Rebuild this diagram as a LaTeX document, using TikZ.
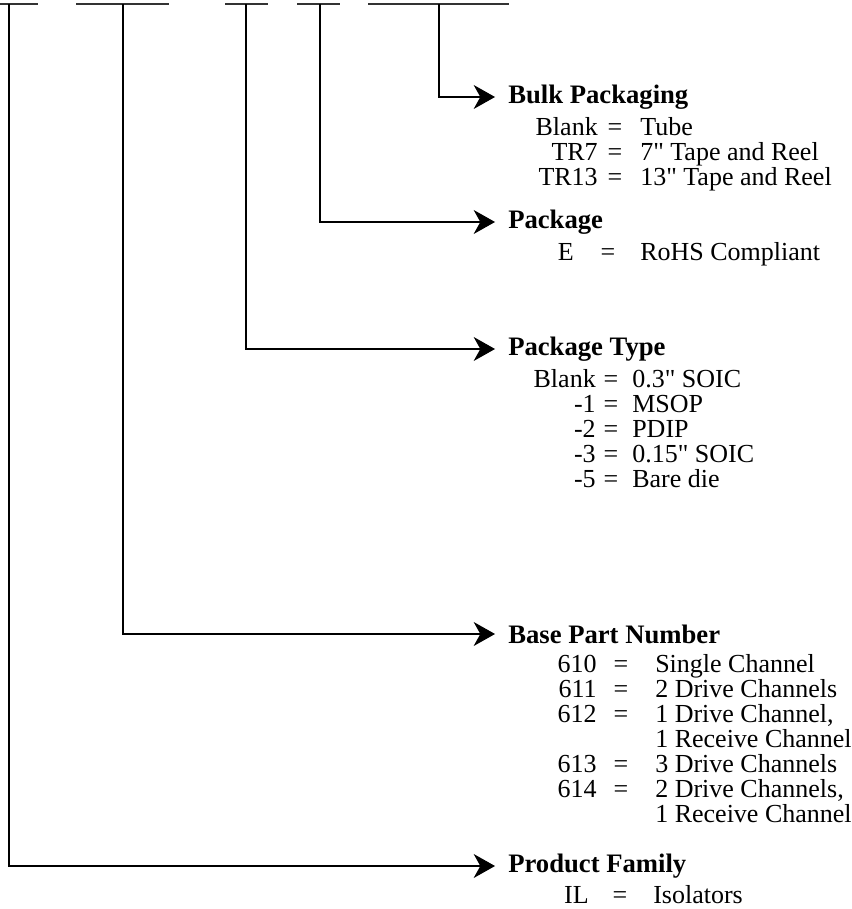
\documentclass[tikz,border=0pt]{standalone}
\usepackage{fontspec}
\setmainfont{Liberation Serif}[Ligatures=TeXOff]
\usetikzlibrary{arrows.meta}
\tikzset{
  lead/.style={line width=0.8pt, -{Stealth[length=16pt, width=18pt, inset=5pt]}},
  bar/.style={line width=1pt, draw=black!80},
  title/.style={anchor=west, inner sep=0pt, font=\bfseries\fontsize{20}{24}\selectfont},
  entry/.style={inner sep=0pt, font=\fontsize{19.5}{24}\selectfont}
}
\begin{document}
\begin{tikzpicture}[x=0.75pt,y=-0.75pt]
  \useasboundingbox (0,0) rectangle (851,909);
  % part number fields
  \foreach \a/\b in {0/38, 76/169, 225/268, 297/340, 368/509} {
    \draw[bar] (\a,4) -- (\b,4);
  }
  \foreach \lab/\x in {fam/9, base/123, type/246, pkg/320, bulk/439} {
    \coordinate (u\lab) at (\x,4);
  }
  % headings
  \foreach \lab/\y/\txt in {
    bulk/97/Bulk Packaging,
    pkg/222/Package,
    type/349/Package Type,
    base/634/Base Part Number,
    fam/866/Product Family%
  } {
    \node[title] (t\lab) at (508,\y) {\txt};
    \coordinate (a\lab) at (495,\y);
    \draw[lead] (u\lab) |- (a\lab);
  }
  % codes
  \foreach \n/\y/\ke/\eq/\vs/\k/\v in {
    b1/132/598/615/640/Blank/Tube,
    b2/157/598/615/640/TR7/7" Tape and Reel,
    b3/182/598/615/640/TR13/13" Tape and Reel,
    p1/257/574/608/640/E/RoHS Compliant,
    y1/384/596/611/632/Blank/0.3" SOIC,
    y2/409/596/611/632/-1/MSOP,
    y3/434/596/611/632/-2/PDIP,
    y4/459/596/611/632/-3/0.15" SOIC,
    y5/484/596/611/632/-5/Bare die,
    n1/669/597/621/655/610/Single Channel,
    n2/694/597/621/655/611/2 Drive Channels,
    n3/719/597/621/655/612/{1 Drive Channel,},
    n5/769/597/621/655/613/3 Drive Channels,
    n6/794/597/621/655/614/{2 Drive Channels,},
    f1/900/589/620/653/IL/Isolators%
  } {
    \node[entry, anchor=mid east] (k\n) at (\ke,\y) {\k};
    \node[entry, anchor=mid] (e\n) at (\eq,\y) {=};
    \node[entry, anchor=mid west] (v\n) at (\vs,\y) {\v};
  }
  \node[entry, anchor=mid west] (vn4) at (655,744) {1 Receive Channel};
  \node[entry, anchor=mid west] (vn7) at (655,819) {1 Receive Channel};
\end{tikzpicture}
\end{document}
